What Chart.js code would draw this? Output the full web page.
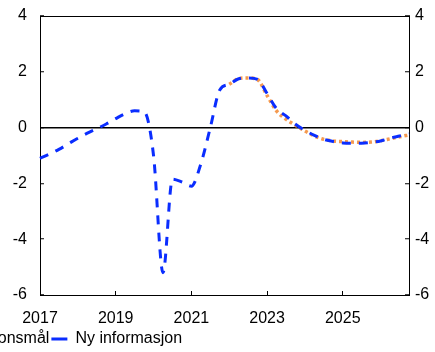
<!DOCTYPE html>
<html>
<head>
<meta charset="utf-8">
<script src="https://cdn.jsdelivr.net/npm/chart.js@4.4.1/dist/chart.umd.min.js"></script>
<style>
  html, body { margin: 0; padding: 0; overflow: hidden; background: #fff; }
  #wrap { position: relative; width: 435px; height: 352px; overflow: hidden; }
  /* canvas is wider than the page and pulled left, so the legend starts off-screen */
  #chart { position: absolute; left: -70px; top: 0; }
</style>
</head>
<body>
<div id="wrap"><canvas id="chart" width="505" height="352"></canvas></div>
<script>
const years = [2017, 2018, 2019, 2020, 2021, 2022, 2023, 2024, 2025, 2026];
const quarters = years.flatMap(y => ['K1', 'K2', 'K3', 'K4'].map(q => y + q));
const tickYears = ['2017', '2019', '2021', '2023', '2025'];

const seriesNames = ['Inflasjonsmål', 'Ny informasjon'];

// kvartalsvis, 2017K1-2026K4
const nyInformasjon = [
  -1.10, -0.95, -0.78, -0.58,
  -0.38, -0.20, -0.04,  0.13,
   0.32,  0.50,  0.60,  0.57,
  -1.00, -5.20, -1.85, -1.95,
  -2.10, -1.30,  0.00,  1.35,
   1.55,  1.75,  1.78,  1.73,
   1.22,  0.68,  0.42,  0.12,
  -0.10, -0.28, -0.42, -0.50,
  -0.55, -0.56, -0.56, -0.53,
  -0.48, -0.38, -0.30, -0.22,
];

const inflasjonsmal = [
  null, null, null, null,
  null, null, null, null,
  null, null, null, null,
  null, null, null, null,
  null, null, null, null,
   1.55,  1.76,  1.78,  1.72,
   1.15,  0.60,  0.30,  0.08,
  -0.12, -0.30, -0.42, -0.48,
  -0.50, -0.52, -0.53, -0.52,
  -0.47, -0.40, -0.33, -0.26,
];

const yMin = -6, yMax = 4, yStep = 2;

Chart.defaults.font.family = "'Liberation Sans', Arial, Helvetica, sans-serif";
Chart.defaults.font.size = 16;
Chart.defaults.color = '#000';

const sideAxis = (position, padding, width) => ({
  position,
  min: yMin,
  max: yMax,
  ticks: { stepSize: yStep, padding },
  grid: {
    drawOnChartArea: position === 'left',
    // nullinje gjennom plottet, resten usynlig
    color: c => (c.tick && c.tick.value === 0 ? '#000' : 'rgba(0,0,0,0)'),
    lineWidth: 1.5,
    tickLength: -4,
    tickColor: '#000',
    tickWidth: 1,
  },
  border: { color: '#000', width: 1 },
  afterFit: s => {
    s.width = width;
    // plottets topp/bunn styres av layout-padding, ikke av etikettene
    s.paddingTop = 0;
    s.paddingBottom = 0;
  },
});

new Chart(document.getElementById('chart'), {
  type: 'line',
  data: {
    labels: quarters,
    datasets: [
      {
        label: seriesNames[0],
        data: inflasjonsmal,
        borderColor: '#f59a4f',
        borderWidth: 3.5,
        borderDash: [3, 3],
        pointRadius: 0,
        cubicInterpolationMode: 'monotone',
        order: 2,
      },
      {
        label: seriesNames[1],
        data: nyInformasjon,
        borderColor: '#0a2dff',
        borderWidth: 3,
        borderDash: [9, 8],
        pointRadius: 0,
        cubicInterpolationMode: 'monotone',
        order: 1,
      },
    ],
  },
  options: {
    responsive: false,
    animation: false,
    layout: { padding: { top: 16 } },
    plugins: {
      tooltip: { enabled: false },
      legend: {
        position: 'bottom',
        align: 'start',
        maxHeight: 23,
        labels: {
          usePointStyle: true,
          pointStyle: 'line',
          pointStyleWidth: 16,
          padding: 2,
          color: '#000',
          sort: (a, b) => a.datasetIndex - b.datasetIndex,
        },
      },
    },
    scales: {
      x: {
        type: 'category',
        position: 'bottom',
        offset: false,
        grid: { drawOnChartArea: false, tickLength: -4, color: '#000' },
        border: { color: '#000', width: 1 },
        ticks: {
          autoSkip: false,
          maxRotation: 0,
          padding: 18,
          callback(v) {
            const lab = this.getLabelForValue(v);
            const yr = lab.slice(0, 4);
            return lab.endsWith('K1') && tickYears.includes(yr) ? yr : null;
          },
        },
        afterFit: s => { s.height = 34; },
      },
      xTop: {
        type: 'category',
        position: 'top',
        offset: false,
        ticks: { display: false },
        grid: { display: false },
        border: { color: '#000', width: 1 },
        afterFit: s => { s.height = 0; },
      },
      y: sideAxis('left', 17, 110),
      yRight: sideAxis('right', 10, 26),
    },
  },
});
</script>
</body>
</html>
